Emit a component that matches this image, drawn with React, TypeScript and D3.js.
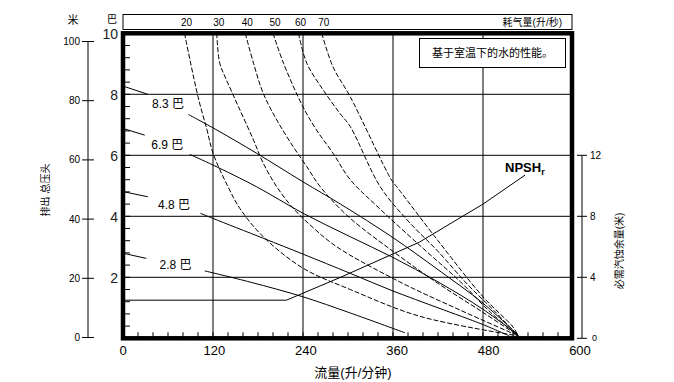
import React from 'react';
import * as d3 from 'd3';

// ---- data ----
const flowTicks = [0, 120, 240, 360, 480, 600];
const flowGrid = [120, 240, 360, 480];
const barGrid = [2, 4, 6, 8];
const barLabels = [2, 4, 6, 8, 10];
const meterTicks = [0, 20, 40, 60, 80, 100];
const npshTicks = [0, 4, 8, 12];
const airValues = [20, 30, 40, 50, 60, 70];

const pressureLabels = ['8.3 巴', '6.9 巴', '4.8 巴', '2.8 巴'];
// [flow l/min, head bar]
const lead83: [number, number][] = [[0, 8.27], [33, 8.0]];
const main83: [number, number][] = [[87, 7.34], [120, 6.9], [178, 6.07], [240, 5.13], [290, 4.4], [360, 3.3], [420, 2.25], [480, 1.15], [527, 0.1]];
const lead69: [number, number][] = [[0, 6.88], [29, 6.66]];
const main69: [number, number][] = [[89, 6.03], [120, 5.68], [178, 4.97], [240, 4.1], [303, 3.33], [360, 2.65], [420, 1.85], [480, 0.95], [527, 0.1]];
const lead48: [number, number][] = [[0, 4.81], [33, 4.64]];
const main48: [number, number][] = [[103, 4.1], [120, 3.93], [187, 3.28], [240, 2.76], [303, 2.13], [360, 1.55], [420, 1.0], [480, 0.45], [515, 0.08]];
const lead28: [number, number][] = [[0, 2.79], [31, 2.62]];
const main28: [number, number][] = [[109, 2.21], [170, 1.84], [240, 1.36], [303, 0.83], [376, 0.18]];

const air20: [number, number][] = [[82, 10], [100, 7.92], [112, 6.83], [120, 6.07], [140, 4.97], [156, 4.25], [187, 3.33], [240, 2.3], [303, 1.6], [396, 0.72], [527, 0.08]];
const air30: [number, number][] = [[125, 10], [129, 9.02], [138, 8.47], [154, 7.59], [174, 6.5], [187, 5.74], [205, 4.97], [227, 4.26], [252, 3.66], [285, 3.0], [369, 1.85], [449, 0.93], [527, 0.08]];
const air40: [number, number][] = [[163, 10], [174, 9.02], [187, 8.03], [205, 7.16], [227, 6.28], [245, 5.63], [263, 4.97], [300, 4.0], [360, 2.85], [420, 1.8], [480, 0.85], [527, 0.08]];
const air50: [number, number][] = [[200, 10], [214, 9.02], [240, 7.59], [258, 6.83], [280, 6.07], [303, 5.2], [340, 4.3], [400, 2.95], [450, 1.85], [490, 0.85], [527, 0.08]];
const air60: [number, number][] = [[234, 10], [245, 9.02], [267, 8.14], [289, 7.38], [303, 6.94], [343, 4.97], [380, 3.85], [420, 2.85], [460, 1.75], [495, 0.9], [527, 0.08]];
const air70: [number, number][] = [[265, 10], [280, 8.9], [303, 7.92], [358, 5.19], [365, 4.97], [420, 3.2], [480, 1.36], [520, 0.37], [527, 0.08]];

// NPSHr [flow, metres]
const npsh: [number, number][] = [[0, 2.5], [218, 2.5], [290, 4.0], [395, 6.3], [480, 8.8], [536, 10.7]];

const FONT = "'Liberation Sans', Arial, 'Noto Sans CJK SC', sans-serif";

export default function App() {
  const x = d3.scaleLinear().domain([0, 600]).range([123, 573]);
  const xLab = d3.scaleLinear().domain([0, 600]).range([123, 580]);
  const y = d3.scaleLinear().domain([0, 10]).range([338.3, 33.3]);
  const yM = d3.scaleLinear().domain([0, 100]).range([337.5, 41.5]);
  const yN = d3.scaleLinear().domain([0, 12]).range([y(0), y(6)]);

  const line = d3.line<[number, number]>().x(d => x(d[0])).y(d => y(d[1])).curve(d3.curveCatmullRom.alpha(0.5));
  const npshLine = d3.line<[number, number]>().x(d => x(d[0])).y(d => yN(d[1])).curve(d3.curveLinear);

  const pressures = [
    { lead: lead83, main: main83, label: pressureLabels[0] },
    { lead: lead69, main: main69, label: pressureLabels[1] },
    { lead: lead48, main: main48, label: pressureLabels[2] },
    { lead: lead28, main: main28, label: pressureLabels[3] },
  ];
  const airs = [air20, air30, air40, air50, air60, air70];

  const x0 = x(0), x1 = x(600), yTop = y(10), yBot = y(0);
  const leftMinor = d3.range(0.4, 10, 0.4);
  const bottomMinor = d3.range(20, 600, 20);
  const npshEnd = npsh[npsh.length - 1];

  return (
    <div style={{ position: 'absolute', left: 0, top: 0, width: 674, height: 382, background: '#fff' }}>
      <svg width={674} height={382} style={{ display: 'block', fontFamily: FONT }}>
        <rect x={0} y={0} width={674} height={382} fill="#fff" />

        {/* top air-consumption box */}
        <rect x={x0} y={14.5} width={x1 - x0 - 1} height={15} fill="#fff" stroke="#000" strokeWidth={1} />
        {airs.map((a, i) => (
          <text key={i} x={x(a[0][0]) + 2} y={26} fontSize={10} textAnchor="middle">{airValues[i]}</text>
        ))}
        <text x={562} y={26} fontSize={10} textAnchor="end">耗气量(升/秒)</text>

        {/* grid */}
        {flowGrid.map(v => (
          <line key={'gx' + v} x1={x(v)} x2={x(v)} y1={yTop} y2={yBot} stroke="#000" strokeWidth={1} />
        ))}
        {barGrid.map(v => (
          <line key={'gy' + v} x1={x0} x2={x1} y1={y(v)} y2={y(v)} stroke="#000" strokeWidth={1} />
        ))}
        {/* minor ticks */}
        {leftMinor.map((v, i) => (
          <line key={'lm' + i} x1={x0} x2={x0 + 7} y1={y(v)} y2={y(v)} stroke="#000" strokeWidth={1} />
        ))}
        {bottomMinor.map((v, i) => (
          <line key={'bm' + i} x1={x(v)} x2={x(v)} y1={yBot} y2={yBot - 6} stroke="#000" strokeWidth={1} />
        ))}

        {/* NPSHr */}
        <path d={npshLine(npsh) || ''} fill="none" stroke="#000" strokeWidth={1} />

        {/* air curves */}
        {airs.map((a, i) => (
          <path key={'a' + i} d={line(a) || ''} fill="none" stroke="#000" strokeWidth={1} strokeDasharray="5,2" />
        ))}

        {/* pressure curves */}
        {pressures.map((p, i) => {
          const le = p.lead[p.lead.length - 1];
          const ms = p.main[0];
          const cx = x((le[0] + ms[0]) / 2);
          const cy = y((le[1] + ms[1]) / 2);
          return (
            <g key={'p' + i}>
              <path d={line(p.lead) || ''} fill="none" stroke="#000" strokeWidth={1} />
              <path d={line(p.main) || ''} fill="none" stroke="#000" strokeWidth={1} />
              <text x={cx} y={cy} fontSize={12} textAnchor="middle" dominantBaseline="central">{p.label}</text>
            </g>
          );
        })}

        {/* NPSH label */}
        <text x={x(npshEnd[0]) - 20} y={yN(npshEnd[1]) - 3} fontSize={13} fontWeight="bold">
          NPSH<tspan fontSize={9} dy={3}>r</tspan>
        </text>

        {/* legend box */}
        <rect x={419.5} y={38.5} width={146} height={29} fill="#fff" stroke="#000" strokeWidth={1} />
        <text x={492.5} y={53} fontSize={11} textAnchor="middle" dominantBaseline="central">基于室温下的水的性能。</text>

        {/* thick frame */}
        <rect x={x0} y={yTop} width={x1 - x0 - 1} height={yBot - yTop} fill="none" stroke="#000" strokeWidth={4.5} />

        {/* inner bar labels */}
        {barLabels.map(v => (
          <text key={'bl' + v} x={118} y={y(v) + 1} fontSize={14} textAnchor="end" dominantBaseline="central" fill="#222">{v}</text>
        ))}
        <text x={112} y={19} fontSize={10} textAnchor="middle" dominantBaseline="central">巴</text>

        {/* outer metres axis */}
        <line x1={88} x2={88} y1={yM(100)} y2={yM(0)} stroke="#000" strokeWidth={1} />
        {meterTicks.map(v => (
          <g key={'m' + v}>
            <line x1={82} x2={94} y1={yM(v)} y2={yM(v)} stroke="#000" strokeWidth={1} />
            <text x={80} y={yM(v)} fontSize={10} textAnchor="end" dominantBaseline="central">{v}</text>
          </g>
        ))}
        <text x={73} y={20} fontSize={11} textAnchor="middle" dominantBaseline="central">米</text>
        <text transform="translate(45,190) rotate(-90)" fontSize={10} textAnchor="middle" dominantBaseline="central">排出 总压头</text>

        {/* right NPSH axis */}
        <line x1={582} x2={582} y1={yN(12)} y2={yN(0)} stroke="#000" strokeWidth={1} />
        {npshTicks.map(v => (
          <g key={'n' + v}>
            <line x1={577} x2={587} y1={yN(v)} y2={yN(v)} stroke="#000" strokeWidth={1} />
            <text x={v === 0 ? 592 : 590} y={yN(v)} fontSize={v === 0 ? 9 : 10} dominantBaseline="central">{v}</text>
          </g>
        ))}
        <text transform="translate(619,251) rotate(-90)" fontSize={10} textAnchor="middle" dominantBaseline="central">必需汽蚀余量(米)</text>

        {/* x axis labels */}
        {flowTicks.map(v => (
          <text key={'xt' + v} x={xLab(v)} y={355} fontSize={13} textAnchor="middle">{v}</text>
        ))}
        <text x={353} y={377} fontSize={13} textAnchor="middle">流量(升/分钟)</text>
      </svg>
    </div>
  );
}
